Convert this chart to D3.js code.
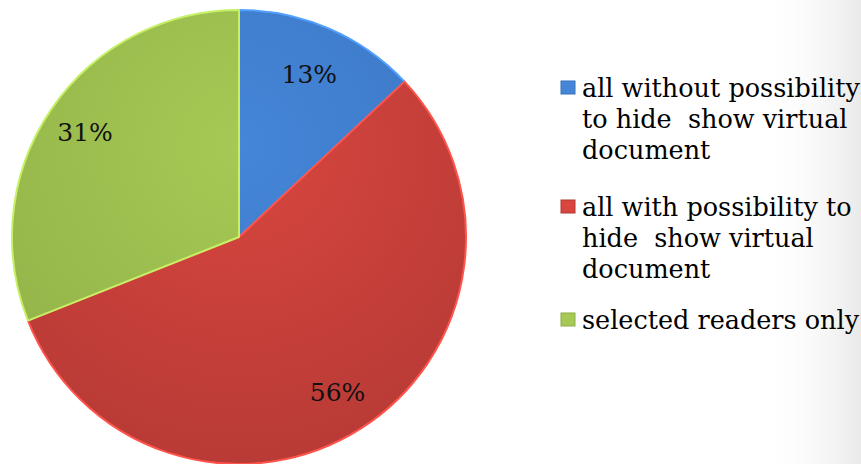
<!DOCTYPE html>
<html>
<head>
<meta charset="utf-8">
<script src="https://cdn.jsdelivr.net/npm/d3@7"></script>
<style>
  html, body { margin:0; padding:0; background:#fff; }
</style>
</head>
<body>
<div id="pie"></div>
<script>
// values
const categories = ["all without possibility to hide  show virtual document",
                    "all with possibility to hide  show virtual document",
                    "selected readers only"];
const legendLines = [["all without possibility", "to hide  show virtual", "document"],
                     ["all with possibility to", "hide  show virtual", "document"],
                     ["selected readers only"]];
const shares = [13, 56, 31];
const colors = ["#4586d8", "#d8463f", "#a6c955"];
const darkColors = ["#3870bd", "#b23834", "#8eae45"];

const w = 861, h = 464;
const cx = 239, cy = 237, r = 227;
const serif = "'DejaVu Serif', 'Liberation Serif', serif";

const svg = d3.select("#pie").append("svg").attr("width", w).attr("height", h);
const defs = svg.append("defs");

// faint slide background on the right
const bg = defs.append("linearGradient").attr("id","bgfade").attr("x1","0").attr("x2","1");
bg.append("stop").attr("offset","0").attr("stop-color","#fff").attr("stop-opacity",0);
bg.append("stop").attr("offset","1").attr("stop-color","#e9e9e9");
svg.append("rect").attr("x", 760).attr("y", 0).attr("width", 101).attr("height", h).attr("fill","url(#bgfade)");

// shading for each slice, lighter near the top
colors.forEach((c,i)=>{
  const lg = defs.append("radialGradient").attr("id","grad"+i)
    .attr("gradientUnits","userSpaceOnUse")
    .attr("cx", 0).attr("cy", -r*0.4).attr("r", r*1.7);
  lg.append("stop").attr("offset","0").attr("stop-color", c);
  lg.append("stop").attr("offset","1").attr("stop-color", darkColors[i]);
});

const pie = d3.pie().sort(null).value(d=>d);
const arc = d3.arc().innerRadius(0).outerRadius(r);
const arcs = pie(shares);

const g = svg.append("g").attr("transform", `translate(${cx},${cy})`);
g.selectAll("path").data(arcs).enter().append("path")
  .attr("d", arc)
  .attr("fill", (d,i)=>`url(#grad${i})`)
  .attr("stroke", (d,i)=>d3.color(colors[i]).brighter(0.5))
  .attr("stroke-width", 2)
  .attr("stroke-linejoin","round");

// label positions along the slice centroids
const labelR = [0.78, 0.81, 0.82];
g.selectAll("text.pct").data(arcs).enter().append("text")
  .attr("class","pct")
  .attr("transform", (d,i)=>{
    const a = d3.arc().innerRadius(r*labelR[i]).outerRadius(r*labelR[i]);
    const c = a.centroid(d);
    return `translate(${c[0]},${c[1]})`;
  })
  .attr("text-anchor","middle").attr("dy","0.35em")
  .attr("font-family", serif)
  .style("font-size","25px").attr("fill","#111")
  .text(d=>d.value + "%");

// legend (baseline of first line of each entry)
const lineH = 31;
const starts = [97, 216, 329];
const legend = svg.append("g");
legendLines.forEach((lines,i)=>{
  legend.append("rect").attr("x", 561).attr("y", starts[i]-16).attr("width", 14).attr("height", 13)
    .attr("fill", colors[i]).attr("stroke", darkColors[i]).attr("stroke-width", 1);
  lines.forEach((t,j)=>{
    legend.append("text").attr("x", 582).attr("y", starts[i] + j*lineH)
      .attr("font-family", serif).attr("xml:space","preserve")
      .style("font-size","25.5px").attr("fill","#000").text(t);
  });
});
</script>
</body>
</html>
